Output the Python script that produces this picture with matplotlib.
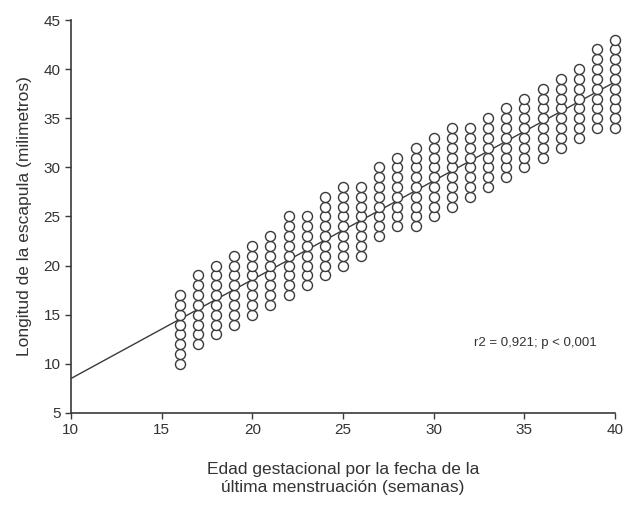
import numpy as np
import matplotlib
matplotlib.use("Agg")
import matplotlib.pyplot as plt

plt.rcParams["font.family"] = ["Liberation Sans", "DejaVu Sans"]

# semanas de gestación y rango (min, max) de longitud de escápula en cada columna
semanas = [16, 17, 18, 19, 20, 21, 22, 23, 24, 25, 26, 27, 28,
           29, 30, 31, 32, 33, 34, 35, 36, 37, 38, 39, 40]
long_min = [10, 12, 13, 14, 15, 16, 17, 18, 19, 20, 21, 23, 24,
            24, 25, 26, 27, 28, 29, 30, 31, 32, 33, 34, 34]
long_max = [17, 19, 20, 21, 22, 23, 25, 25, 27, 28, 28, 30, 31,
            32, 33, 34, 34, 35, 36, 37, 38, 39, 40, 42, 43]

# recta de regresión
recta_x = [10, 40]
recta_y = [8.5, 38.7]

xs, ys = [], []
for s, lo, hi in zip(semanas, long_min, long_max):
    for v in range(lo, hi + 1):
        xs.append(s)
        ys.append(v)

fig = plt.figure(figsize=(6.27, 5.13), dpi=100)
ax = fig.add_axes([0.113, 0.195, 0.868, 0.766])

gris = "#3a3a3a"
ax.plot(recta_x, recta_y, color=gris, lw=1.0, zorder=2)
ax.scatter(xs, ys, s=52, facecolors="white", edgecolors=gris, linewidths=1.0,
           zorder=3, clip_on=False)

ax.set_xlim(10, 40)
ax.set_ylim(5, 45)
ax.set_xticks(range(10, 41, 5))
ax.set_yticks(range(5, 46, 5))

for side in ["top", "right"]:
    ax.spines[side].set_visible(False)
for side in ["left", "bottom"]:
    ax.spines[side].set_color(gris)
    ax.spines[side].set_linewidth(1.2)
ax.tick_params(direction="out", length=4, width=1.0, color=gris,
               labelsize=11, labelcolor="#333333")

ax.set_ylabel("Longitud de la escapula (milimetros)", fontsize=12.5, color="#333333", labelpad=8)
ax.set_xlabel("Edad gestacional por la fecha de la\núltima menstruación (semanas)",
              fontsize=12.5, color="#333333", labelpad=18)

ax.text(32.2, 12.1, "r2 = 0,921; p < 0,001", fontsize=9.5, color="#333333", va="center")

fig.savefig("out.png", dpi=100, facecolor="white")
